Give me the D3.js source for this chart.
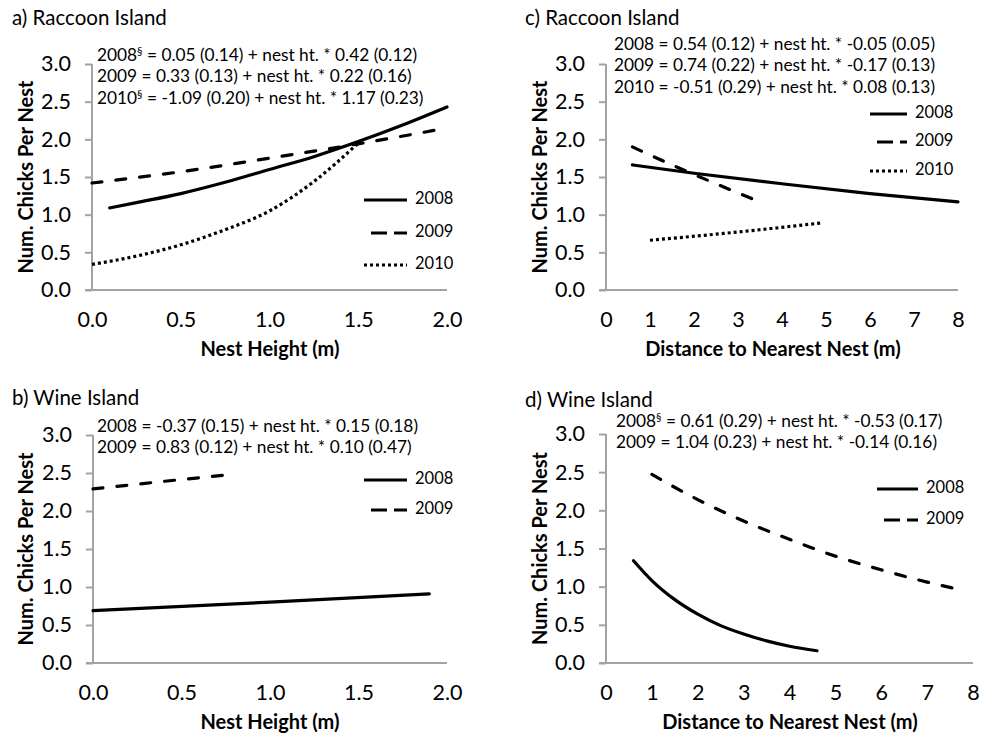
<!DOCTYPE html>
<html>
<head>
<meta charset="utf-8">
<script src="https://cdn.jsdelivr.net/npm/d3@7"></script>
<style>
  body { margin: 0; background: #fff; }
  text { font-family: Lato, "Open Sans", sans-serif; fill: #000; }
</style>
</head>
<body>
<svg width="981" height="736"></svg>
<script>
// values: [x, chicks per nest]
var raccoonHt2008 = [[0.1,1.09],[0.25,1.16],[0.5,1.28],[0.75,1.43],[1.0,1.60],[1.25,1.77],[1.5,1.97],[1.75,2.19],[2.0,2.43]]
var raccoonHt2009 = [[0,1.42],[0.5,1.57],[1.0,1.75],[1.5,1.94],[2.0,2.15]]
var raccoonHt2010 = [[0,0.34],[0.25,0.45],[0.5,0.60],[0.75,0.80],[1.0,1.05],[1.25,1.44],[1.5,1.95]]

var raccoonDist2008 = [[0.6,1.66],[2,1.55],[4,1.41],[6,1.28],[8,1.17]]
var raccoonDist2009 = [[0.6,1.90],[1.5,1.66],[2.5,1.41],[3.45,1.18]]
var raccoonDist2010 = [[1.0,0.66],[3.0,0.77],[4.9,0.89]]

var wineHt2008 = [[0,0.69],[1.0,0.80],[1.9,0.91]]
var wineHt2009 = [[0,2.29],[0.4,2.39],[0.78,2.48]]

var wineDist2008 = [[0.6,1.34],[1.0,1.08],[1.5,0.83],[2.0,0.64],[2.5,0.49],[3.0,0.38],[3.5,0.29],[4.0,0.22],[4.6,0.16]]
var wineDist2009 = [[1.0,2.47],[2,2.14],[3,1.86],[4,1.62],[5,1.40],[6,1.22],[7,1.06],[7.8,0.95]]

var yTicks = [0, 0.5, 1.0, 1.5, 2.0, 2.5, 3.0]
var htTicks = [0, 0.5, 1.0, 1.5, 2.0]
var distTicks = [0, 1, 2, 3, 4, 5, 6, 7, 8]

var eqA = [["2008", "§", " = 0.05 (0.14) + nest ht. * 0.42 (0.12)"],
           ["2009", "", " = 0.33 (0.13) + nest ht. * 0.22 (0.16)"],
           ["2010", "§", " = -1.09 (0.20) + nest ht. * 1.17 (0.23)"]]
var eqC = [["2008", "", " = 0.54 (0.12) + nest ht. * -0.05 (0.05)"],
           ["2009", "", " = 0.74 (0.22) + nest ht. * -0.17 (0.13)"],
           ["2010", "", " = -0.51 (0.29) + nest ht. * 0.08 (0.13)"]]
var eqB = [["2008", "", " = -0.37 (0.15) + nest ht. * 0.15 (0.18)"],
           ["2009", "", " = 0.83 (0.12) + nest ht. * 0.10 (0.47)"]]
var eqD = [["2008", "§", " = 0.61 (0.29) + nest ht. * -0.53 (0.17)"],
           ["2009", "", " = 1.04 (0.23) + nest ht. * -0.14 (0.16)"]]

var svg = d3.select("svg")

// line styles per year
var styles = {
    "2008": {dash: null, cap: "round", legDash: null},
    "2009": {dash: "10,14", cap: "round", legDash: "16,7"},
    "2010": {dash: "3,3", cap: "butt", legDash: "3,3"}
}

function drawPanel(p) {
    var x = d3.scaleLinear().domain(p.xDomain).range(p.xRange)
    var y = d3.scaleLinear().domain([0, 3]).range(p.yRange)
    var g = svg.append("g")

    // title
    g.append("text").attr("x", p.titleX).attr("y", p.titleY)
        .attr("dominant-baseline", "middle").style("font-size", "20.5px").text(p.title)

    // y axis
    var yAxis = g.append("g").attr("transform", "translate(" + p.xRange[0] + ",0)")
        .call(d3.axisLeft(y).tickValues(yTicks).tickFormat(d3.format(".1f")).tickSize(7).tickPadding(14))
    yAxis.select(".domain").attr("d", "M0," + p.yRange[1] + "V" + p.yRange[0])
    // x axis
    var xAxis = g.append("g").attr("transform", "translate(0," + p.yRange[0] + ")")
        .call(d3.axisBottom(x).tickValues(p.xTicks).tickFormat(p.xFormat).tickSize(0).tickPadding(22))
    xAxis.select(".domain").attr("d", "M" + (p.xRange[0] - 7) + ",0H" + p.xRange[1])
    g.selectAll(".domain, .tick line").attr("stroke", "#a3a3a3").attr("stroke-width", 2)
    g.selectAll(".tick text").style("font-size", "21.5px").style("font-family", "Lato")

    // axis titles
    g.append("text").attr("x", p.xTitleX).attr("y", p.yRange[0] + 61)
        .attr("text-anchor", "middle").attr("dominant-baseline", "middle")
        .style("font-size", "20px").style("font-weight", "bold").text(p.xTitle)
    g.append("text")
        .attr("transform", "translate(" + p.yTitleX + "," + ((p.yRange[0] + p.yRange[1]) / 2) + ") rotate(-90)")
        .attr("text-anchor", "middle").attr("dominant-baseline", "middle")
        .style("font-size", "20px").style("font-weight", "bold").text("Num. Chicks Per Nest")

    // equations
    p.eq.forEach(function(e, i) {
        var t = g.append("text").attr("x", p.eqX).attr("y", p.eqY[i])
            .attr("dominant-baseline", "middle").style("font-size", "17.3px")
        t.append("tspan").text(e[0])
        if (e[1]) t.append("tspan").attr("dy", -5).style("font-size", "11px").text(e[1])
        t.append("tspan").attr("dy", e[1] ? 5 : 0).text(e[2])
    })

    // curves
    var line = d3.line().x(d => x(d[0])).y(d => y(d[1])).curve(d3.curveMonotoneX)
    p.series.forEach(function(s) {
        var st = styles[s.year]
        g.append("path").attr("d", line(s.values))
            .attr("fill", "none").attr("stroke", "#000").attr("stroke-width", 3.2)
            .attr("stroke-dasharray", st.dash).attr("stroke-linecap", st.cap)
    })

    // legend
    p.series.forEach(function(s, i) {
        var st = styles[s.year]
        var ly = p.legY[i]
        g.append("line").attr("x1", p.legX[0]).attr("x2", p.legX[1]).attr("y1", ly).attr("y2", ly)
            .attr("stroke", "#000").attr("stroke-width", 3.2)
            .attr("stroke-dasharray", st.legDash)
            .attr("stroke-dashoffset", s.year == "2009" ? -7 : 0)
        g.append("text").attr("x", p.legX[1] + 8).attr("y", ly)
            .attr("dominant-baseline", "middle").style("font-size", "16.5px").text(s.year)
    })
}

var fmt1 = d3.format(".1f")
var fmt0 = d3.format("d")

drawPanel({
    title: "a) Raccoon Island", titleX: 12, titleY: 20,
    xDomain: [0, 2], xRange: [92, 447], yRange: [290, 64],
    xTicks: htTicks, xFormat: fmt1, xTitle: "Nest Height (m)", xTitleX: 270, yTitleX: 28,
    eq: eqA, eqX: 97, eqY: [57, 78, 100],
    series: [{year: "2008", values: raccoonHt2008}, {year: "2009", values: raccoonHt2009}, {year: "2010", values: raccoonHt2010}],
    legX: [364, 407], legY: [200, 233, 265]
})
drawPanel({
    title: "c) Raccoon Island", titleX: 525, titleY: 20,
    xDomain: [0, 8], xRange: [606, 958], yRange: [290, 64],
    xTicks: distTicks, xFormat: fmt0, xTitle: "Distance to Nearest Nest (m)", xTitleX: 773, yTitleX: 542,
    eq: eqC, eqX: 614, eqY: [46, 67, 89],
    series: [{year: "2008", values: raccoonDist2008}, {year: "2009", values: raccoonDist2009}, {year: "2010", values: raccoonDist2010}],
    legX: [870, 907], legY: [114, 142, 171]
})
drawPanel({
    title: "b) Wine Island", titleX: 12, titleY: 400,
    xDomain: [0, 2], xRange: [93, 447], yRange: [663, 435],
    xTicks: htTicks, xFormat: fmt1, xTitle: "Nest Height (m)", xTitleX: 270, yTitleX: 28,
    eq: eqB, eqX: 97, eqY: [428, 449],
    series: [{year: "2008", values: wineHt2008}, {year: "2009", values: wineHt2009}],
    legX: [364, 407], legY: [480, 510]
})
drawPanel({
    title: "d) Wine Island", titleX: 525, titleY: 402,
    xDomain: [0, 8], xRange: [606, 973], yRange: [663, 434],
    xTicks: distTicks, xFormat: fmt0, xTitle: "Distance to Nearest Nest (m)", xTitleX: 790, yTitleX: 542,
    eq: eqD, eqX: 616, eqY: [423, 444],
    series: [{year: "2008", values: wineDist2008}, {year: "2009", values: wineDist2009}],
    legX: [877, 918], legY: [489, 520]
})
</script>
</body>
</html>
